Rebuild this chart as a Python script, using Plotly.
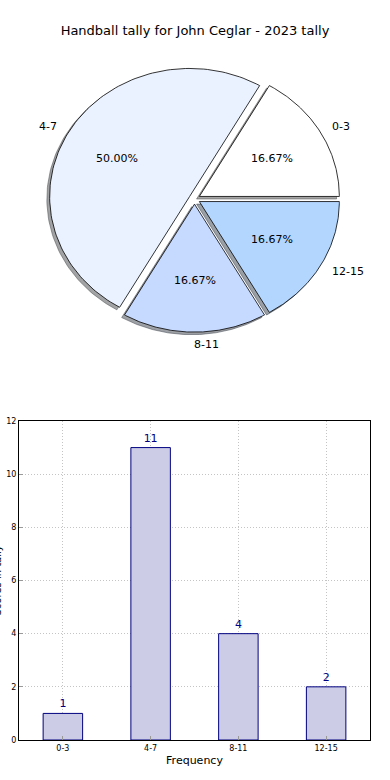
import numpy as np
import plotly.graph_objects as go

# ---------------- data ----------------
pie_labels = ["0-3", "4-7", "8-11", "12-15"]
pie_values = [1, 3, 1, 1]
pie_colors = ["#FFFFFF", "#EBF2FF", "#C6D9FF", "#B3D6FF"]

bar_categories = ["0-3", "4-7", "8-11", "12-15"]
bar_values = [1, 11, 4, 2]
y_ticks = [0, 2, 4, 6, 8, 10, 12]

title_text = "Handball tally for John Ceglar - 2023 tally"
x_title = "Frequency"
y_title = "Scores in tally"

# ---------------- layout parameters ----------------
W, H = 390, 780
FONT = "DejaVu Sans"
PIE_TOP_H = 360           # pixel height of pie region
cx, cy = 194.5, 199.0     # pie centre (pixel units of pie axes)
rx, ry = 140.0, 128.0     # elliptical radii
explode = 0.04
shadow_dx, shadow_dy = -0.02 * rx, 0.02 * ry

fig = go.Figure()

total = float(sum(pie_values))
fracs = [v / total for v in pie_values]


def wedge(theta1, theta2, ox, oy):
    t = np.linspace(np.radians(theta1), np.radians(theta2), 120)
    xs = np.concatenate([[ox], ox + rx * np.cos(t), [ox]])
    ys = np.concatenate([[oy], oy - ry * np.sin(t), [oy]])
    return xs, ys


def mix(hexcol, factor):
    h = hexcol.lstrip("#")
    r, g, b = (int(h[i:i + 2], 16) for i in (0, 2, 4))
    return "rgba(%d,%d,%d,0.5)" % (r * factor, g * factor, b * factor)


geo = []
start = 0.0
for lab, f, col in zip(pie_labels, fracs, pie_colors):
    th1 = start
    th2 = start + 360.0 * f
    mid = np.radians((th1 + th2) / 2)
    ox = cx + explode * rx * np.cos(mid)
    oy = cy - explode * ry * np.sin(mid)
    geo.append((lab, f, col, th1, th2, mid, ox, oy))
    start = th2

# shadows
for lab, f, col, th1, th2, mid, ox, oy in geo:
    xs, ys = wedge(th1, th2, ox + shadow_dx, oy + shadow_dy)
    fig.add_trace(go.Scatter(x=xs, y=ys, mode="lines", fill="toself",
                             fillcolor=mix(col, 0.3),
                             line=dict(color=mix(col, 0.3), width=1),
                             xaxis="x2", yaxis="y2", hoverinfo="skip",
                             showlegend=False))
# wedges
for lab, f, col, th1, th2, mid, ox, oy in geo:
    xs, ys = wedge(th1, th2, ox, oy)
    fig.add_trace(go.Scatter(x=xs, y=ys, mode="lines", fill="toself",
                             fillcolor=col, line=dict(color="black", width=0.8),
                             xaxis="x2", yaxis="y2", name=lab,
                             showlegend=False))

# labels
for lab, f, col, th1, th2, mid, ox, oy in geo:
    lx = ox + 1.1 * rx * np.cos(mid)
    ly = oy - 1.1 * ry * np.sin(mid)
    left = np.cos(mid) >= -1e-9
    fig.add_annotation(x=lx, y=ly, xref="x2", yref="y2", text=lab,
                       showarrow=False,
                       xanchor="left" if left else "right",
                       xshift=-3 if left else 3,
                       yanchor="middle",
                       font=dict(family=FONT, size=11, color="black"))
    px = ox + 0.6 * rx * np.cos(mid)
    py = oy - 0.6 * ry * np.sin(mid)
    fig.add_annotation(x=px, y=py, xref="x2", yref="y2",
                       text="%.2f%%" % (f * 100), showarrow=False,
                       xanchor="center", yanchor="middle",
                       font=dict(family=FONT, size=11, color="black"))

# ---------------- bar chart ----------------
fig.add_trace(go.Bar(x=list(range(len(bar_categories))), y=bar_values,
                     width=0.45, marker=dict(color="#CCCCE6",
                                             line=dict(color="#000080", width=1)),
                     text=[str(v) for v in bar_values], textposition="outside",
                     textfont=dict(family=FONT, size=11, color="#000080"),
                     cliponaxis=False, showlegend=False,
                     xaxis="x", yaxis="y"))

GRID = "#C4C4C4"
DASH = "1px,2px"
ax_l, ax_r, ax_t, ax_b = 19, 370, 421, 740
fig.update_layout(
    width=W, height=H, autosize=False,
    margin=dict(l=0, r=0, t=0, b=0, pad=0, autoexpand=False),
    paper_bgcolor="white", plot_bgcolor="white",
    title=dict(text=title_text, x=0.5, xanchor="center",
               y=1 - 30 / H, yanchor="middle", yref="paper", automargin=False,
               font=dict(family=FONT, size=13, color="black")),
    xaxis=dict(domain=[ax_l / W, ax_r / W], range=[-0.5, 3.5],
               tickmode="array", tickvals=list(range(len(bar_categories))),
               ticktext=bar_categories, automargin=False,
               tickfont=dict(family=FONT, size=8, color="black"),
               showline=True, mirror=True, linecolor="black", linewidth=1,
               showgrid=True, gridcolor=GRID, griddash=DASH, gridwidth=1,
               ticks="inside", ticklen=4, tickcolor="#999999",
               zeroline=False, fixedrange=True,
               title=dict(text=x_title, standoff=4,
                          font=dict(family=FONT, size=11, color="black"))),
    yaxis=dict(domain=[1 - ax_b / H, 1 - ax_t / H], range=[0, 12],
               tickmode="array", tickvals=y_ticks,
               ticktext=[str(v) for v in y_ticks], automargin=False,
               tickfont=dict(family=FONT, size=8, color="black"),
               showline=True, mirror=True, linecolor="black", linewidth=1,
               showgrid=True, gridcolor=GRID, griddash=DASH, gridwidth=1,
               ticks="inside", ticklen=4, tickcolor="#999999",
               zeroline=False, fixedrange=True),
    xaxis2=dict(domain=[0, 1], range=[0, W], visible=False, fixedrange=True,
                automargin=False),
    yaxis2=dict(domain=[1 - PIE_TOP_H / H, 1], range=[PIE_TOP_H, 0],
                visible=False, fixedrange=True, automargin=False),
)

# y-axis title (clipped at the left edge, as in the reference)
fig.add_annotation(x=4 / W, y=1 - 581 / H, xref="paper", yref="paper",
                   text=y_title, textangle=-90, showarrow=False,
                   xanchor="right", yanchor="middle",
                   font=dict(family=FONT, size=10, color="black"))

fig.write_html("out.html",
               config={"displayModeBar": False},
               post_script="document.body.style.margin='0';"
                           "document.body.style.overflow='hidden';")
